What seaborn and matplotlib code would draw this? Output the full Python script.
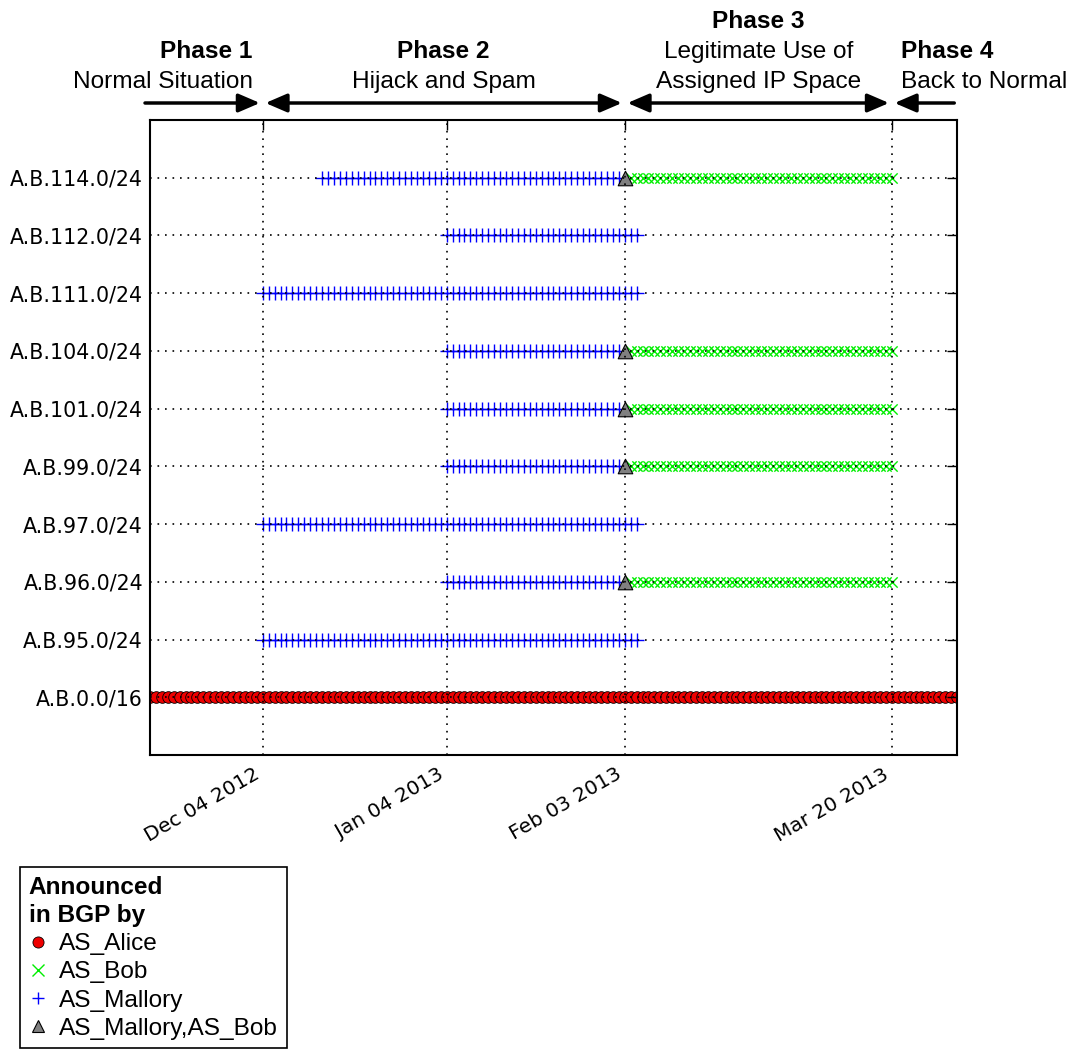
import numpy as np
import pandas as pd
import seaborn as sns
import matplotlib
matplotlib.use("Agg")
import matplotlib.pyplot as plt
import matplotlib.dates as mdates
from matplotlib.transforms import blended_transform_factory, offset_copy
from matplotlib.lines import Line2D

# prefixes, bottom to top
prefixes = ['A.B.0.0/16', 'A.B.95.0/24', 'A.B.96.0/24', 'A.B.97.0/24', 'A.B.99.0/24',
            'A.B.101.0/24', 'A.B.104.0/24', 'A.B.111.0/24', 'A.B.112.0/24', 'A.B.114.0/24']

# AS_Alice announces the /16 for the whole window
alice_prefixes = ['A.B.0.0/16']
alice_first = ['2012-11-15']
alice_last = ['2013-03-31']

# AS_Mallory hijack
mallory_prefixes = ['A.B.95.0/24', 'A.B.96.0/24', 'A.B.97.0/24', 'A.B.99.0/24', 'A.B.101.0/24',
                    'A.B.104.0/24', 'A.B.111.0/24', 'A.B.112.0/24', 'A.B.114.0/24']
mallory_first = ['2012-12-04', '2013-01-04', '2012-12-04', '2013-01-04', '2013-01-04',
                 '2013-01-04', '2012-12-04', '2013-01-04', '2012-12-14']
mallory_last = ['2013-02-05', '2013-02-02', '2013-02-05', '2013-02-02', '2013-02-02',
                '2013-02-02', '2013-02-05', '2013-02-05', '2013-02-02']

# day seen from both, then AS_Bob alone
both_prefixes = ['A.B.96.0/24', 'A.B.99.0/24', 'A.B.101.0/24', 'A.B.104.0/24', 'A.B.114.0/24']
both_first = ['2013-02-03'] * 5
both_last = ['2013-02-03'] * 5
bob_prefixes = ['A.B.96.0/24', 'A.B.99.0/24', 'A.B.101.0/24', 'A.B.104.0/24', 'A.B.114.0/24']
bob_first = ['2013-02-04'] * 5
bob_last = ['2013-03-20'] * 5

tick_dates = ['2012-12-04', '2013-01-04', '2013-02-03', '2013-03-20']
phase_bounds = ['2012-11-15', '2012-12-04', '2013-02-03', '2013-03-20', '2013-03-31']
phase_titles = ['Phase 1', 'Phase 2', 'Phase 3', 'Phase 4']
phase_notes = [['Normal Situation'], ['Hijack and Spam'],
               ['Legitimate Use of', 'Assigned IP Space'], ['Back to Normal']]


def daily(prefs, firsts, lasts, who):
    rows = []
    for p, a, b in zip(prefs, firsts, lasts):
        for d in pd.date_range(a, b, freq='D'):
            rows.append((d, prefixes.index(p), who))
    return pd.DataFrame(rows, columns=['date', 'y', 'as'])


df = pd.concat([daily(alice_prefixes, alice_first, alice_last, 'AS_Alice'),
                daily(bob_prefixes, bob_first, bob_last, 'AS_Bob'),
                daily(mallory_prefixes, mallory_first, mallory_last, 'AS_Mallory'),
                daily(both_prefixes, both_first, both_last, 'AS_Mallory,AS_Bob')])

sns.set_style('white')
plt.rcParams['font.family'] = ['Liberation Sans', 'DejaVu Sans']
plt.rcParams['text.color'] = 'k'
plt.rcParams['xtick.color'] = 'k'
plt.rcParams['ytick.color'] = 'k'
plt.rcParams['xtick.direction'] = 'in'
plt.rcParams['ytick.direction'] = 'in'

fig = plt.figure(figsize=(10.71, 10.49), dpi=100)
ax = fig.add_axes([0.140, 0.2803, 0.7536, 0.6053])

styles = {
    'AS_Alice': dict(marker='o', color='#ee0000', edgecolor='k', linewidth=0.6, s=70),
    'AS_Bob': dict(marker='x', color='#00ee00', linewidth=1.0, s=55),
    'AS_Mallory': dict(marker='+', color='#0000ff', linewidth=1.0, s=95),
    'AS_Mallory,AS_Bob': dict(marker='^', color='#808080', edgecolor='k', linewidth=0.8, s=110),
}
for who, st in styles.items():
    sub = df[df['as'] == who]
    sns.scatterplot(data=sub, x='date', y='y', ax=ax, legend=False, zorder=2, **st)

ax.set_xlim(pd.Timestamp(phase_bounds[0]), pd.Timestamp(phase_bounds[-1]))
ax.set_ylim(-1, len(prefixes))
ax.set_yticks(range(len(prefixes)))
ax.set_yticklabels(prefixes, family='DejaVu Sans', fontsize=14.8)
ax.set_xticks([pd.Timestamp(t) for t in tick_dates])
ax.xaxis.set_major_formatter(mdates.DateFormatter('%b %d %Y'))
for lab in ax.get_xticklabels():
    lab.set_rotation(30)
    lab.set_ha('right')
    lab.set_family('DejaVu Sans')
    lab.set_fontsize(14.5)
ax.set_xlabel('')
ax.set_ylabel('')
ax.tick_params(top=True, right=True, length=7, width=1, color='k', pad=5)
ax.tick_params(axis='x', pad=7)
ax.set_axisbelow(False)
ax.grid(True, color='k', linestyle=(0, (1, 3.5)), linewidth=1.2)
for sp in ax.spines.values():
    sp.set_color('k')
    sp.set_linewidth(1.5)

# phase headers and arrows above the axes
trans = blended_transform_factory(ax.transData, fig.transFigure)
H = 1049.0
bounds = [mdates.date2num(pd.Timestamp(b)) for b in phase_bounds]
arrow_y = 1 - 103 / H
heads = ['-|>', '<|-|>', '<|-|>', '<|-']
for i, title in enumerate(phase_titles):
    x0, x1 = bounds[i], bounds[i + 1]
    ax.annotate('', xy=(x1, arrow_y), xytext=(x0 - (1.3 if i == 0 else 0), arrow_y),
                xycoords=trans, textcoords=trans, annotation_clip=False,
                arrowprops=dict(arrowstyle=heads[i] + ',head_length=0.65,head_width=0.28',
                                lw=2.5, color='k', shrinkA=2, shrinkB=2, mutation_scale=20))
    lines = [title] + phase_notes[i]
    if i == 0:
        xt, ha = x1, 'right'
        tr = offset_copy(trans, fig=fig, x=-10, y=0, units='dots')
    elif i == 3:
        xt, ha = x0, 'left'
        tr = offset_copy(trans, fig=fig, x=9, y=0, units='dots')
    else:
        xt, ha = (x0 + x1) / 2, 'center'
        tr = trans
    base = 88
    for k, line in enumerate(reversed(lines)):
        bold = (k == len(lines) - 1)
        fig.text(xt, 1 - (base - 30 * k) / H, line, transform=tr, ha=ha, va='baseline',
                 fontsize=17.6, fontweight='bold' if bold else 'normal')

handles = [Line2D([], [], linestyle='none', marker='o', markersize=8, markerfacecolor='#ee0000',
                  markeredgecolor='k', markeredgewidth=0.6),
           Line2D([], [], linestyle='none', marker='x', markersize=8, color='#00ee00'),
           Line2D([], [], linestyle='none', marker='+', markersize=9, color='#0000ff'),
           Line2D([], [], linestyle='none', marker='^', markersize=9, markerfacecolor='#808080',
                  markeredgecolor='k', markeredgewidth=0.8)]
leg = fig.legend(handles, list(styles.keys()), title='Announced\nin BGP by', loc='upper left',
                 bbox_to_anchor=(20 / 1071, 1 - 867 / H), fontsize=17.6, alignment='left',
                 handlelength=0.8, handletextpad=0.45, labelspacing=0.25, borderpad=0.35,
                 borderaxespad=0, fancybox=False, framealpha=1, edgecolor='k')
leg.get_title().set_fontweight('bold')
leg.get_title().set_fontsize(17.6)
leg.get_title().set_linespacing(1.3)
leg.get_frame().set_linewidth(1.2)

fig.savefig('out.png', dpi=100)
